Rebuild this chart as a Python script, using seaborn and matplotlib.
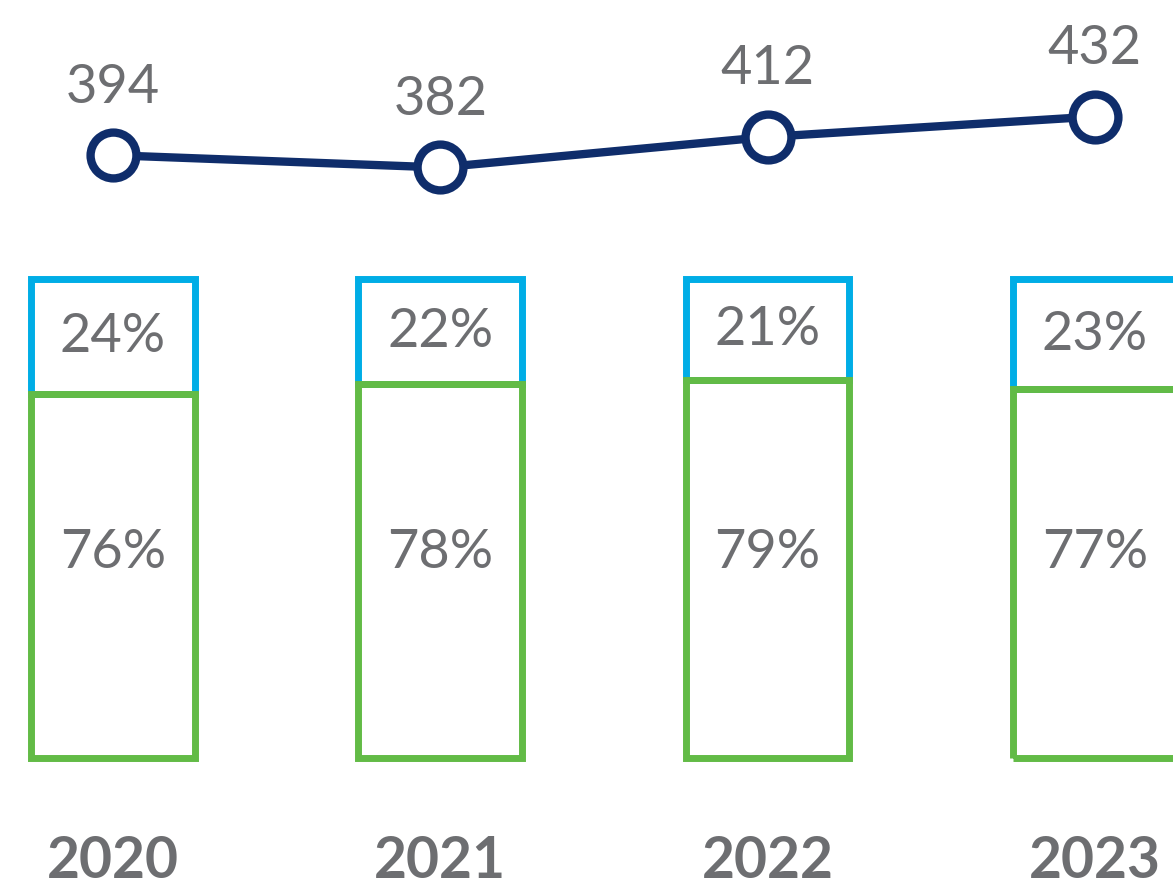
import matplotlib
matplotlib.use("Agg")
import matplotlib.pyplot as plt
import seaborn as sns
import numpy as np

years = ["2020", "2021", "2022", "2023"]
totals = [394, 382, 412, 432]
base_share = [76, 78, 79, 77]
top_share = [24, 22, 21, 23]

GRAY = "#6d6e71"
BLUE = "#00ade6"
GREEN = "#62bb46"
NAVY = "#0f2d6b"

sns.set_theme(style="white")
plt.rcParams["font.family"] = ["Lato", "DejaVu Sans"]

fig = plt.figure(figsize=(11.73, 8.88), dpi=100)
ax = fig.add_axes([0, 0, 1, 1])

# stacked outline bars: blue share on top of the green share
sns.barplot(x=years, y=top_share, bottom=base_share, color=BLUE, fill=False,
            linewidth=5, width=0.5, errorbar=None, ax=ax)
sns.barplot(x=years, y=base_share, color=GREEN, fill=False,
            linewidth=5, width=0.5, errorbar=None, ax=ax)

ax.set_xlim(-0.3452, 3.2386)
ax.set_ylim(-27.14, 158.25)
ax.axis("off")

for i, (b, t) in enumerate(zip(base_share, top_share)):
    ax.text(i, b + t / 2, f"{t}%", ha="center", va="center", fontsize=39, color=GRAY)
    ax.text(i, 43, f"{b}%", ha="center", va="center", fontsize=39, color=GRAY)
    ax.text(i, -21.7, years[i], ha="center", va="center", fontsize=41,
            fontweight="bold", color=GRAY)

# totals line on its own scale
ax2 = ax.twinx()
sns.lineplot(x=np.arange(len(years)), y=totals, color=NAVY, linewidth=6,
             marker="o", markersize=33, markerfacecolor="white",
             markeredgecolor=NAVY, markeredgewidth=6, ax=ax2)
ax2.set_xlim(-0.3452, 3.2386)
ax2.set_ylim(-325.9, 546.5)
ax2.axis("off")

for i, v in enumerate(totals):
    ax2.annotate(str(v), (i, v), xytext=(0, 49), textcoords="offset points",
                 ha="center", va="center", fontsize=39, color=GRAY)

fig.savefig("out.png", dpi=100)
